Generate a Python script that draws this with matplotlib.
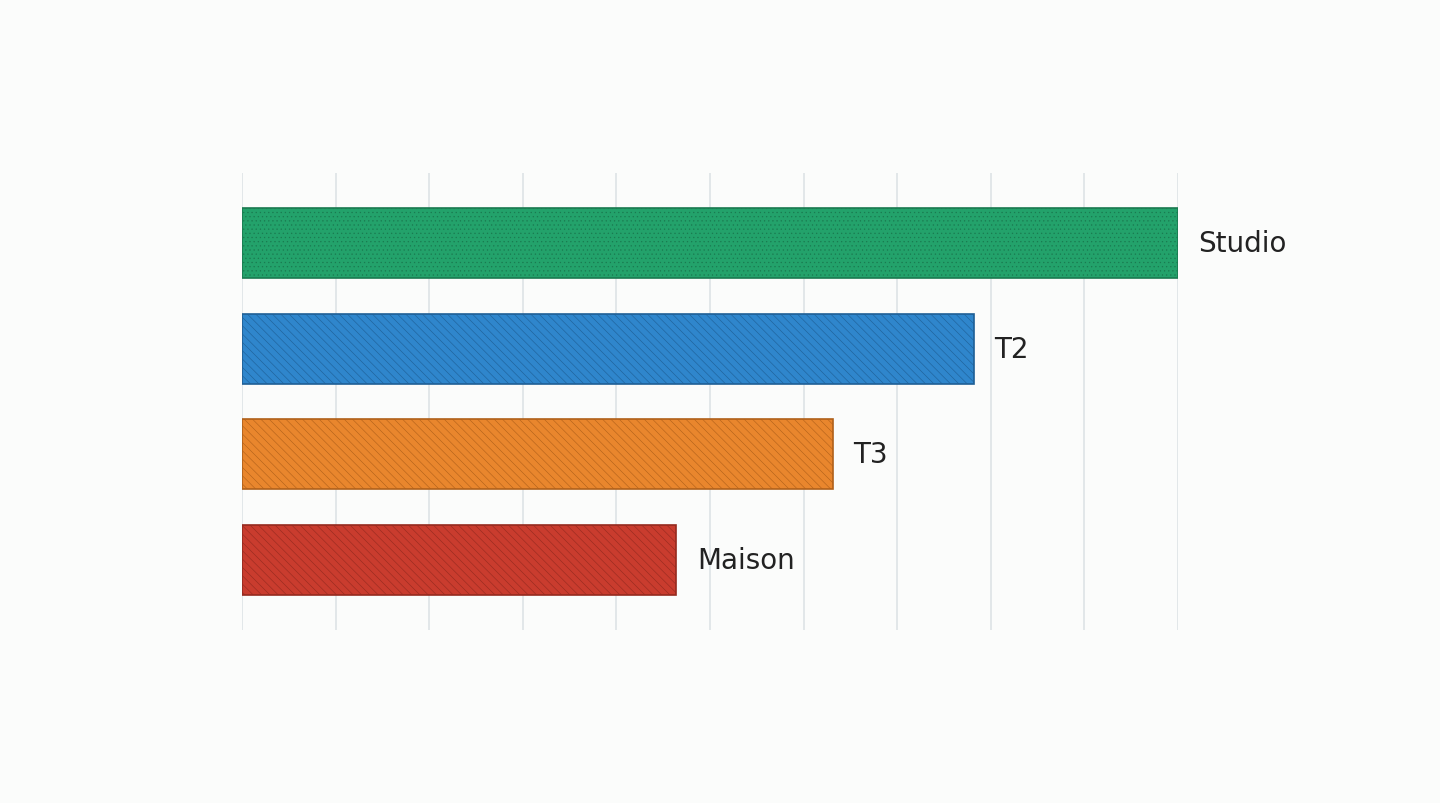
import matplotlib
matplotlib.use("Agg")
import matplotlib.pyplot as plt

categories = ["Studio", "T2", "T3", "Maison"]
values = [10.0, 7.82, 6.31, 4.64]
colors = ["#23a26b", "#2f86cc", "#e9862d", "#c93c2e"]
edges = ["#1a7a50", "#1f5f95", "#b0601a", "#952a1f"]
hatches = ["....", "\\\\\\\\", "\\\\\\\\", "\\\\\\\\"]

plt.rcParams['hatch.linewidth'] = 0.4
fig = plt.figure(figsize=(14.4, 8.04), dpi=100, facecolor="#fbfcfb")
ax = fig.add_axes([242/1440, 1-631/804, 936/1440, 457/804], facecolor="#fbfcfb")
for i, (c, v) in enumerate(zip(categories, values)):
    plt.rcParams['hatch.color'] = edges[i]
    ax.barh(i, v, height=0.667, color=colors[i], edgecolor=edges[i],
            linewidth=1.2, hatch=hatches[i], zorder=3)
    ax.text(v + 0.22, i, c, va="center", ha="left", fontsize=20,
            color="#222222", clip_on=False)
ax.set_xlim(0, 10)
ax.set_ylim(3.667, -0.667)
ax.set_xticks(range(11))
ax.grid(axis="x", color="#dde3e6", linewidth=1.2, zorder=0)
ax.tick_params(left=False, bottom=False, labelleft=False, labelbottom=False)
for s in ax.spines.values():
    s.set_visible(False)
fig.savefig("out.png", dpi=100, facecolor=fig.get_facecolor())
